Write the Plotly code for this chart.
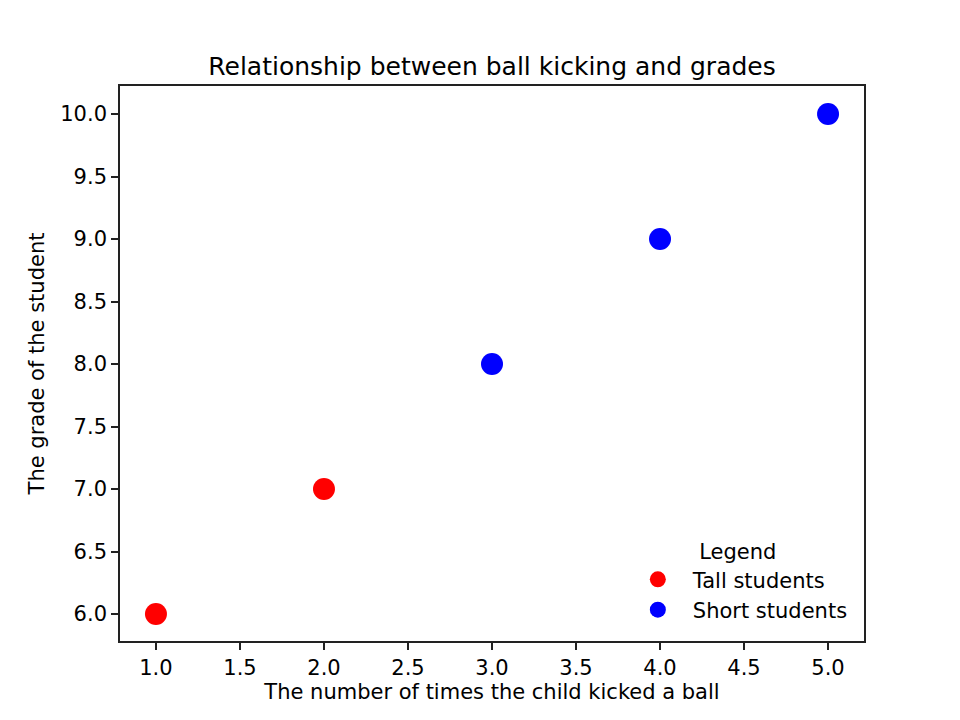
import plotly.graph_objects as go

tall_x = [1, 2]
tall_y = [6, 7]
short_x = [3, 4, 5]
short_y = [8, 9, 10]
x_ticks = [1.0, 1.5, 2.0, 2.5, 3.0, 3.5, 4.0, 4.5, 5.0]
y_ticks = [6.0, 6.5, 7.0, 7.5, 8.0, 8.5, 9.0, 9.5, 10.0]

font = "DejaVu Sans"
FS = 21
fig = go.Figure()
fig.add_trace(go.Scatter(x=tall_x, y=tall_y, mode="markers", name="Tall students",
                         marker=dict(color="#ff0000", size=22, line=dict(width=0))))
fig.add_trace(go.Scatter(x=short_x, y=short_y, mode="markers", name="Short students",
                         marker=dict(color="#0000ff", size=22, line=dict(width=0))))

axis_common = dict(showgrid=False, zeroline=False, showline=True, linecolor="#222222",
                   linewidth=1.6, mirror=True, ticks="outside", ticklen=7, tickwidth=1.6,
                   tickcolor="#222222", tickfont=dict(family=font, size=FS, color="black"))

# page body has an 8px margin: shift the figure margins so the plot area sits at 120..864, 86..641
fig.update_layout(
    width=960, height=720,
    paper_bgcolor="white", plot_bgcolor="white",
    margin=dict(l=112, r=104, t=78, b=87),
    title=dict(text="Relationship between ball kicking and grades", x=(492 - 8) / 960, xanchor="center",
               y=1 - (66 - 8) / 720, yanchor="middle",
               font=dict(family=font, size=25, color="black")),
    xaxis=dict(range=[0.786, 5.214], tickvals=x_ticks,
               ticktext=[f"{v:.1f}" for v in x_ticks],
               title=dict(text="The number of times the child kicked a ball",
                          font=dict(family=font, size=FS, color="black"), standoff=5),
               **axis_common),
    yaxis=dict(range=[5.784, 10.224], tickvals=y_ticks,
               ticktext=[f"{v:.1f}" for v in y_ticks],
               title=dict(text="The grade of the student",
                          font=dict(family=font, size=FS, color="black"), standoff=10),
               **axis_common),
    legend=dict(title=dict(text="Legend", side="top center",
                           font=dict(family=font, size=FS, color="black")),
                x=0.985, y=0.02, xanchor="right", yanchor="bottom",
                bgcolor="rgba(255,255,255,0)", borderwidth=0,
                font=dict(family=font, size=FS, color="black"),
                itemsizing="trace", itemwidth=60),
    showlegend=True,
)

fig.write_html("out.html")
